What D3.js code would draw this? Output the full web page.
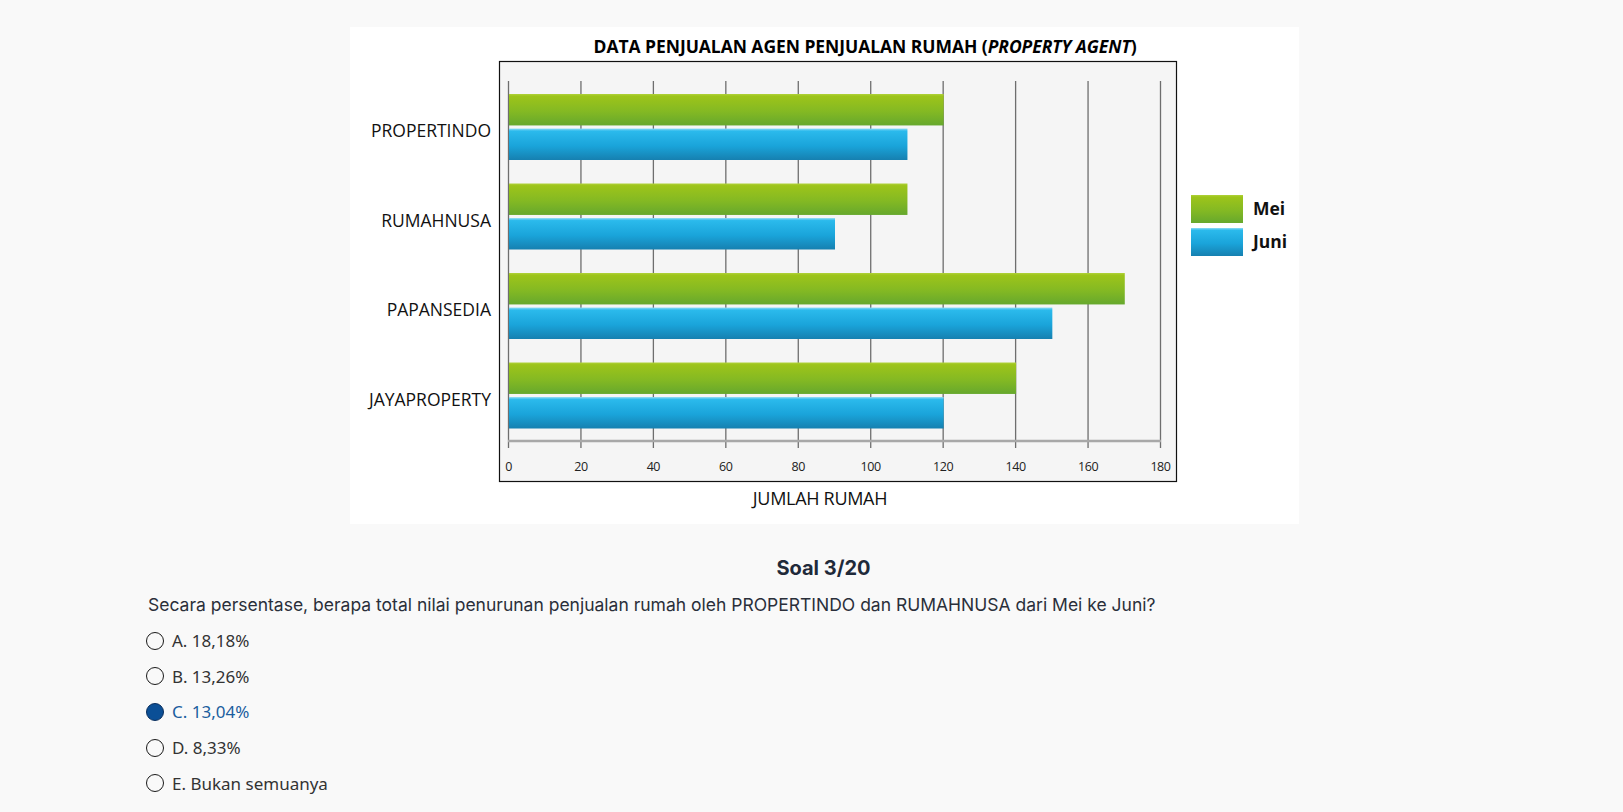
<!DOCTYPE html>
<html>
<head>
<meta charset="utf-8">
<script src="https://cdn.jsdelivr.net/npm/d3@7"></script>
<style>
  body { margin: 0; background: #f9f9f9; font-family: "Open Sans", sans-serif; }
  #chart { position: absolute; left: 0; top: 0; }
  .soal { position: absolute; left: 0; width: 1647px; top: 556px; text-align: center;
          font-family: Inter, sans-serif; font-weight: 700; font-size: 20px; color: #1f2a3a; }
  .tanya { position: absolute; left: 148px; top: 594px; font-family: Inter, sans-serif;
           font-size: 17.5px; color: #2a2f3a; }
  .opt { position: absolute; left: 146px; font-family: "Noto Sans", sans-serif; font-size: 17px;
         color: #333; display: flex; align-items: center; }
  .opt .r { width: 18px; height: 18px; border: 1.7px solid #1a1a1a; border-radius: 50%; margin-right: 8px; box-sizing: border-box; }
  .opt.sel { color: #1b5e9e; }
  .opt.sel .r { background: #0b4f96; border-color: #0a2f5e; }
</style>
</head>
<body>
<svg id="chart" width="1623" height="540"></svg>
<div class="soal">Soal 3/20</div>
<div class="tanya">Secara persentase, berapa total nilai penurunan penjualan rumah oleh PROPERTINDO dan RUMAHNUSA dari Mei ke Juni?</div>
<div id="opts"></div>
<script>
var agents = ["PROPERTINDO", "RUMAHNUSA", "PAPANSEDIA", "JAYAPROPERTY"];
var series = ["Mei", "Juni"];
var mei = [120, 110, 170, 140];
var juni = [110, 90, 150, 120];
var xTicks = [0, 20, 40, 60, 80, 100, 120, 140, 160, 180];
var options = ["A. 18,18%", "B. 13,26%", "C. 13,04%", "D. 8,33%", "E. Bukan semuanya"];
var selected = 2;

var svg = d3.select("#chart");

// gradients
var defs = svg.append("defs");
function grad(id, stops) {
  var g = defs.append("linearGradient").attr("id", id)
    .attr("x1", 0).attr("y1", 0).attr("x2", 0).attr("y2", 1);
  stops.forEach(function(s) {
    g.append("stop").attr("offset", s[0]).attr("stop-color", s[1]);
  });
}
grad("gMei", [[0, "#b0d23a"], [0.07, "#9dc41a"], [0.55, "#84b923"], [1, "#66a82d"]]);
grad("gJuni", [[0, "#8fdcf6"], [0.08, "#2bbaec"], [0.55, "#1aa4da"], [1, "#1680b0"]]);

// card
svg.append("rect").attr("x", 350).attr("y", 27).attr("width", 949).attr("height", 497).attr("fill", "#fff");

svg.append("text")
  .attr("x", 865).attr("y", 53)
  .attr("text-anchor", "middle")
  .style("font-family", "'Open Sans'").style("font-weight", 700).style("font-size", "17.5px")
  .style("letter-spacing", "-0.05px")
  .html("DATA PENJUALAN AGEN PENJUALAN RUMAH (<tspan font-style='italic'>PROPERTY AGENT</tspan>)");

// plot frame
svg.append("rect").attr("x", 499.5).attr("y", 61.5).attr("width", 677).attr("height", 420)
  .attr("fill", "#f5f5f5").attr("stroke", "#111").attr("stroke-width", 1.2);

var x = d3.scaleLinear().domain([0, 180]).range([508, 1160]);
var y = d3.scaleBand().domain(agents).range([94, 428.5]).paddingInner(0.2626).paddingOuter(0);
var ySub = d3.scaleBand().domain(series).range([0, y.bandwidth()]).paddingInner(0.09);

// grid
svg.append("g").selectAll("line").data(xTicks).enter().append("line")
  .attr("x1", function(d) { return x(d) + 0.5; }).attr("x2", function(d) { return x(d) + 0.5; })
  .attr("y1", 81).attr("y2", 448)
  .attr("stroke", "#6e6e6e").attr("stroke-width", 1.3);

svg.append("line").attr("x1", x(0)).attr("x2", x(180) + 1).attr("y1", 441).attr("y2", 441)
  .attr("stroke", "#a8a8a8").attr("stroke-width", 2.5);

var axis = svg.append("g").attr("transform", "translate(0,467)");
axis.selectAll("text").data(xTicks).enter().append("text")
  .attr("x", function(d) { return x(d) + 0.5; })
  .attr("dy", "0.35em")
  .attr("text-anchor", "middle")
  .style("font-size", "12.5px").style("font-family", "'Open Sans'").style("fill", "#222")
  .style("letter-spacing", "-0.4px")
  .text(function(d) { return d; });

// bars
var groups = svg.append("g").selectAll("g").data(agents).enter().append("g")
  .attr("transform", function(d) { return "translate(0," + y(d) + ")"; });

groups.each(function(a, i) {
  var g = d3.select(this);
  var vals = [mei[i], juni[i]];
  series.forEach(function(s, j) {
    g.append("rect")
      .attr("x", x(0) + 1).attr("y", ySub(s))
      .attr("width", x(vals[j]) - x(0))
      .attr("height", ySub.bandwidth())
      .attr("fill", j === 0 ? "url(#gMei)" : "url(#gJuni)");
  });
});

svg.append("g").selectAll("text").data(agents).enter().append("text")
  .attr("x", 491)
  .attr("y", function(d) { return y(d) + y.bandwidth() / 2 + 4; })
  .attr("dy", "0.35em")
  .attr("text-anchor", "end")
  .style("font-size", "17.5px").style("font-family", "'Open Sans'").style("fill", "#111")
  .text(function(d) { return d; });

svg.append("text").attr("x", 820).attr("y", 499).attr("dy", "0.35em")
  .attr("text-anchor", "middle")
  .style("font-size", "18px").style("font-family", "'Open Sans'").style("fill", "#111")
  .style("letter-spacing", "-0.3px")
  .text("JUMLAH RUMAH");

// legend
var legend = svg.append("g").selectAll("g").data(series).enter().append("g")
  .attr("transform", function(d, i) { return "translate(1191," + (195 + i * 33) + ")"; });
legend.append("rect").attr("width", 52).attr("height", 28)
  .attr("fill", function(d, i) { return i === 0 ? "url(#gMei)" : "url(#gJuni)"; });
legend.append("text").attr("x", 62).attr("y", 14).attr("dy", "0.35em")
  .style("font-weight", 700).style("font-size", "17.5px").style("font-family", "'Open Sans'").style("fill", "#111")
  .text(function(d) { return d; });

// options
var opts = d3.select("#opts").selectAll("div").data(options).enter().append("div")
  .attr("class", function(d, i) { return i === selected ? "opt sel" : "opt"; })
  .style("top", function(d, i) { return (629 + i * 35.7) + "px"; });
opts.append("span").attr("class", "r");
opts.append("span").text(function(d) { return d; });
</script>
</body>
</html>
